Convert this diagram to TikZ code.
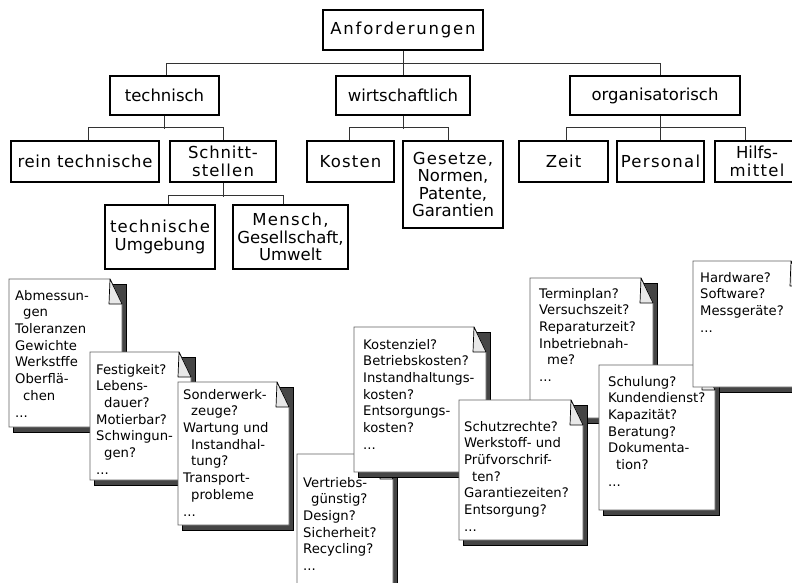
\documentclass[tikz,border=0pt]{standalone}
\usepackage{fontspec}
\setmainfont{DejaVu Sans}
\newcommand\boxfont{\fontsize{16.5}{17.6}\selectfont}
\newcommand\notefont{\fontsize{13.2}{16.7}\selectfont}
\newcommand\wide[2]{{\addfontfeature{LetterSpace=#1}#2}}
\newcommand\ind{\hspace*{8pt}}
\definecolor{shadowgray}{gray}{0.27}
\definecolor{eargray}{gray}{0.91}
\definecolor{edgegray}{gray}{0.38}

% shadow, paper and folded corner of a note card: #1,#2 = top left, #3,#4 = bottom right
\newcommand\cardshadow[4]{%
  \filldraw[cardshade] (#1+4,#2+5) rectangle (#3+4,#4+5);}
\newcommand\cardpaper[4]{%
  \filldraw[cardbody] (#1,#2) -- (#3-12,#2) -- (#3,#2+25) -- (#3,#4) -- (#1,#4) -- cycle;
  \filldraw[cardear] (#3-12,#2) -- (#3-13,#2+25) -- (#3,#2+25) -- cycle;}
\newcommand\notecard[4]{\cardshadow{#1}{#2}{#3}{#4}\cardpaper{#1}{#2}{#3}{#4}}

\begin{document}
\begin{tikzpicture}[x=1pt,y=-1pt,
  tbox/.style={draw=black,line width=1.2pt,fill=white,inner sep=0pt,
    font=\boxfont,align=center},
  conn/.style={draw=black!80,line width=1pt},
  cardshade/.style={fill=shadowgray,draw=black,line width=0.8pt},
  cardbody/.style={fill=white,draw=edgegray,line width=0.8pt},
  cardear/.style={fill=eargray,draw=black,line width=0.7pt,line join=round},
  cardtext/.style={anchor=north west,inner sep=0pt,align=left,font=\notefont}]

\useasboundingbox (0,0) rectangle (792,583);
\clip (0,0) rectangle (792,583);

% ---------- requirement tree ----------
\node[tbox,minimum width=160pt,minimum height=40pt] (anf) at (403,30) {\wide{11}{Anforderungen}};

\node[tbox,minimum width=109pt,minimum height=39pt] (tech) at (164.5,95.5) {technisch};
\node[tbox,minimum width=134pt,minimum height=39pt] (wirt) at (403,95.5) {wirtschaftlich};
\node[tbox,minimum width=170pt,minimum height=39pt] (org) at (655,95.5) {organisatorisch};

\node[tbox,minimum width=148pt,minimum height=41pt] (rein) at (85,161.5) {\wide{4}{rein technische}};
\node[tbox,minimum width=106pt,minimum height=41pt] (schn) at (223,161.5) {\wide{5}{Schnitt-}\\\wide{7}{stellen}};
\node[tbox,minimum width=110pt,minimum height=64pt] (tumg) at (160,237) {\wide{7}{technische}\\Umgebung};
\node[tbox,minimum width=115pt,minimum height=64pt] (mensch) at (290.5,237) {\wide{8}{Mensch,}\\Gesellschaft,\\Umwelt};

\node[tbox,minimum width=87pt,minimum height=41pt] (kosten) at (350.5,161.5) {\wide{7}{Kosten}};
\node[tbox,minimum width=100pt,minimum height=87pt] (gesetze) at (453,184.5) {\wide{7}{Gesetze,}\\Normen,\\Patente,\\Garantien};

\node[tbox,minimum width=89pt,minimum height=41pt] (zeit) at (563.5,161.5) {\wide{6}{Zeit}};
\node[tbox,minimum width=87pt,minimum height=41pt] (personal) at (660.5,161.5) {\wide{8}{Personal}};
\node[tbox,minimum width=84pt,minimum height=41pt] (hilfs) at (757,161.5) {Hilfs-\\\wide{8}{mittel}};

\draw[conn] (anf.south) -- (wirt.north);
\draw[conn] ([xshift=1.5pt]tech.north) -- ++(0,-12) -| ([xshift=5pt]org.north);
\draw[conn] (tech.south) -- ++(0,13);
\draw[conn] ([xshift=3pt]rein.north) -- ++(0,-13) -| (schn.north);
\draw[conn] (schn.south) -- ++(0,14);
\draw[conn] ([xshift=8pt]tumg.north) -- ++(0,-9) -| ([xshift=-7.5pt]mensch.north);
\draw[conn] (wirt.south) -- ++(0,13);
\draw[conn] ([xshift=-1.5pt]kosten.north) -- ++(0,-13) -| ([xshift=-5pt]gesetze.north);
\draw[conn] ([xshift=5pt]org.south) -- ++(0,13);
\draw[conn] ([xshift=2.5pt]zeit.north) -- ++(0,-13) -| ([xshift=-12pt]hilfs.north);
\draw[conn] (personal.north) -- ++(0,-13);

% ---------- note cards ----------
\notecard{9}{279}{122}{427}
\node[cardtext] (n1) at (15,288.3) {\strut Abmessun-\\\ind gen\\Toleranzen\\Gewichte\\Werkstffe\\Oberflä-\\\ind chen\\...};

\notecard{90}{352}{191}{480}
\node[cardtext] (n2) at (96,362.3) {\strut Festigkeit?\\Lebens-\\\ind dauer?\\Motierbar?\\Schwingun-\\\ind gen?\\...};

\notecard{178}{382}{289}{525}
\node[cardtext] (n3) at (183,387.3) {\strut Sonderwerk-\\\ind zeuge?\\Wartung und\\\ind Instandhal-\\\ind tung?\\Transport-\\\ind probleme\\...};

\notecard{297}{454}{393}{610}
\node[cardtext] (n4) at (303,475.3) {\strut Vertriebs-\\\ind günstig?\\Design?\\Sicherheit?\\Recycling?\\...};

\notecard{354}{327}{486}{472}
\node[cardtext] (n5) at (363,337.3) {\strut Kostenziel?\\Betriebskosten?\\Instandhaltungs-\\kosten?\\Entsorgungs-\\kosten?\\...};

\notecard{530}{278}{653}{418}
\node[cardtext] (n7) at (539,286.3) {\strut Terminplan?\\Versuchszeit?\\Reparaturzeit?\\Inbetriebnah-\\\ind me?\\...};

\notecard{459}{400}{583}{540}
\node[cardtext] (n6) at (464,419.3) {\strut Schutzrechte?\\Werkstoff- und\\Prüfvorschrif-\\\ind ten?\\Garantiezeiten?\\Entsorgung?\\...};

\cardshadow{693}{261}{803}{387}
\notecard{599}{365}{715}{510}
\node[cardtext] (n8) at (608,374.3) {\strut Schulung?\\Kundendienst?\\Kapazität?\\Beratung?\\Dokumenta-\\\ind tion?\\...};

\cardpaper{693}{261}{803}{387}
\node[cardtext] (n9) at (700,270.3) {\strut Hardware?\\Software?\\Messgeräte?\\...};

\end{tikzpicture}
\end{document}
